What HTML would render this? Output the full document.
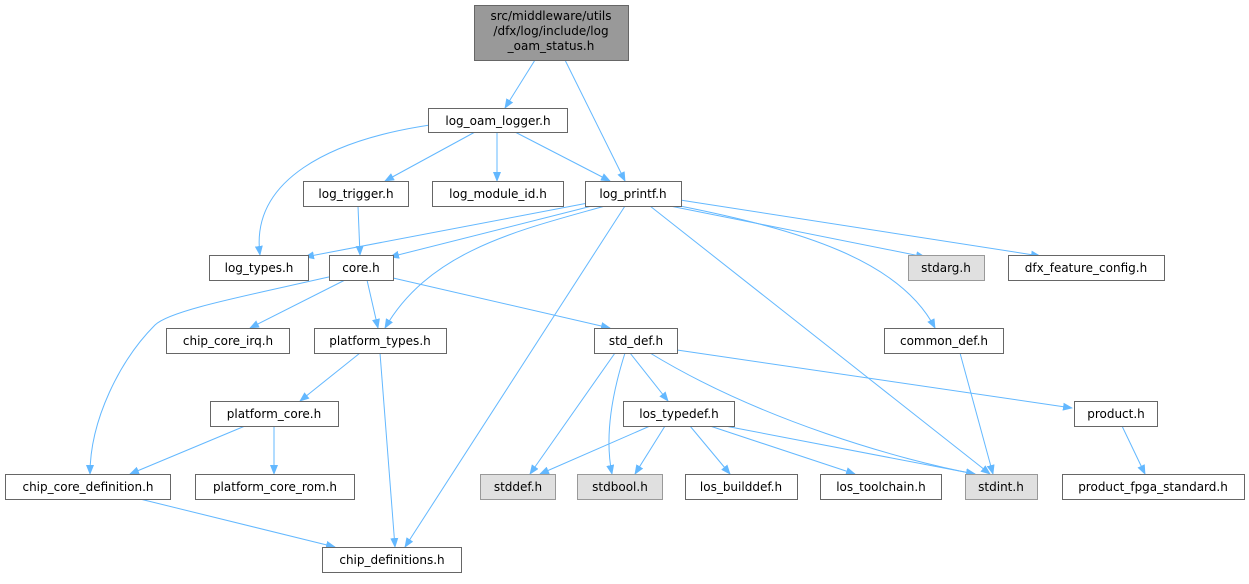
<!DOCTYPE html>
<html><head><meta charset="utf-8"><style>
html,body{margin:0;padding:0;background:#fff;}
svg text{font-family:"DejaVu Sans","Liberation Sans",sans-serif;font-size:12px;fill:#000;}
</style></head><body>
<svg width="1249" height="579" viewBox="0 0 1249 579" xmlns="http://www.w3.org/2000/svg">
<defs><marker id="a" markerWidth="10" markerHeight="8" refX="9" refY="4" orient="auto" markerUnits="userSpaceOnUse"><path d="M0,0 L10,4 L0,8 z" fill="#63b8ff"/></marker></defs>
<g fill="none" stroke="#63b8ff" stroke-width="1" marker-end="url(#a)">
<path d="M535,60 L505,108"/>
<path d="M565,60 L625,181"/>
<path d="M430,125 C330,140 250,180 260,255"/>
<path d="M475,132 L385,181"/>
<path d="M497,132 L497,181"/>
<path d="M515,132 L610,181"/>
<path d="M358,206 L360,255"/>
<path d="M588,203 L305,257"/>
<path d="M592,206 L390,257"/>
<path d="M605,206 C520,230 430,250 385,328"/>
<path d="M625,206 L405,547"/>
<path d="M650,206 L990,474"/>
<path d="M670,206 L925,257"/>
<path d="M680,200 L1040,256"/>
<path d="M680,206 C800,230 900,260 935,328"/>
<path d="M333,276 C250,295 170,310 155,325 C120,360 90,420 90,474"/>
<path d="M345,280 L250,328"/>
<path d="M367,280 L378,328"/>
<path d="M393,278 L610,328"/>
<path d="M360,353 L300,401"/>
<path d="M380,353 L395,547"/>
<path d="M615,353 L530,474"/>
<path d="M625,353 C610,400 605,440 612,474"/>
<path d="M630,353 L668,401"/>
<path d="M650,353 C760,420 900,460 975,474"/>
<path d="M677,350 L1072,408"/>
<path d="M960,353 L993,474"/>
<path d="M245,426 L130,474"/>
<path d="M274,426 L274,474"/>
<path d="M650,426 L540,474"/>
<path d="M665,426 L635,474"/>
<path d="M690,426 L730,474"/>
<path d="M710,426 L855,474"/>
<path d="M725,426 L975,474"/>
<path d="M1122,426 L1145,474"/>
<path d="M140,499 L335,547"/>
</g>
<g stroke="#666" stroke-width="1">
<rect x="474.5" y="5.5" width="154" height="55" fill="#999"/>
<rect x="428.5" y="108.5" width="139" height="24" fill="#fff"/>
<rect x="303.5" y="181.5" width="105" height="25" fill="#fff"/>
<rect x="432.5" y="181.5" width="131" height="25" fill="#fff"/>
<rect x="585.5" y="181.5" width="96" height="25" fill="#fff"/>
<rect x="209.5" y="255.5" width="99" height="25" fill="#fff"/>
<rect x="329.5" y="255.5" width="64" height="25" fill="#fff"/>
<rect x="908.5" y="255.5" width="76" height="25" fill="#e0e0e0" stroke="#999"/>
<rect x="1008.5" y="255.5" width="156" height="25" fill="#fff"/>
<rect x="166.5" y="328.5" width="123" height="25" fill="#fff"/>
<rect x="314.5" y="328.5" width="132" height="25" fill="#fff"/>
<rect x="594.5" y="328.5" width="83" height="25" fill="#fff"/>
<rect x="884.5" y="328.5" width="119" height="25" fill="#fff"/>
<rect x="210.5" y="401.5" width="128" height="25" fill="#fff"/>
<rect x="623.5" y="401.5" width="111" height="25" fill="#fff"/>
<rect x="1074.5" y="401.5" width="83" height="25" fill="#fff"/>
<rect x="5.5" y="474.5" width="165" height="25" fill="#fff"/>
<rect x="195.5" y="474.5" width="159" height="25" fill="#fff"/>
<rect x="480.5" y="474.5" width="75" height="25" fill="#e0e0e0" stroke="#999"/>
<rect x="577.5" y="474.5" width="85" height="25" fill="#e0e0e0" stroke="#999"/>
<rect x="685.5" y="474.5" width="112" height="25" fill="#fff"/>
<rect x="820.5" y="474.5" width="121" height="25" fill="#fff"/>
<rect x="965.5" y="474.5" width="72" height="25" fill="#e0e0e0" stroke="#999"/>
<rect x="1062.5" y="474.5" width="182" height="25" fill="#fff"/>
<rect x="322.5" y="547.5" width="139" height="25" fill="#fff"/>
</g>
<g text-anchor="middle">
<text x="551" y="20">src/middleware/utils</text>
<text x="551" y="35">/dfx/log/include/log</text>
<text x="551" y="50">_oam_status.h</text>
<text x="498" y="125">log_oam_logger.h</text>
<text x="356" y="198">log_trigger.h</text>
<text x="498" y="198">log_module_id.h</text>
<text x="633" y="198">log_printf.h</text>
<text x="259" y="272">log_types.h</text>
<text x="361" y="272">core.h</text>
<text x="946" y="272">stdarg.h</text>
<text x="1086" y="272">dfx_feature_config.h</text>
<text x="228" y="345">chip_core_irq.h</text>
<text x="380" y="345">platform_types.h</text>
<text x="636" y="345">std_def.h</text>
<text x="944" y="345">common_def.h</text>
<text x="274" y="418">platform_core.h</text>
<text x="679" y="418">los_typedef.h</text>
<text x="1116" y="418">product.h</text>
<text x="88" y="491">chip_core_definition.h</text>
<text x="275" y="491">platform_core_rom.h</text>
<text x="518" y="491">stddef.h</text>
<text x="620" y="491">stdbool.h</text>
<text x="741" y="491">los_builddef.h</text>
<text x="881" y="491">los_toolchain.h</text>
<text x="1001" y="491">stdint.h</text>
<text x="1153" y="491">product_fpga_standard.h</text>
<text x="392" y="564">chip_definitions.h</text>
</g>
</svg>
</body></html>
